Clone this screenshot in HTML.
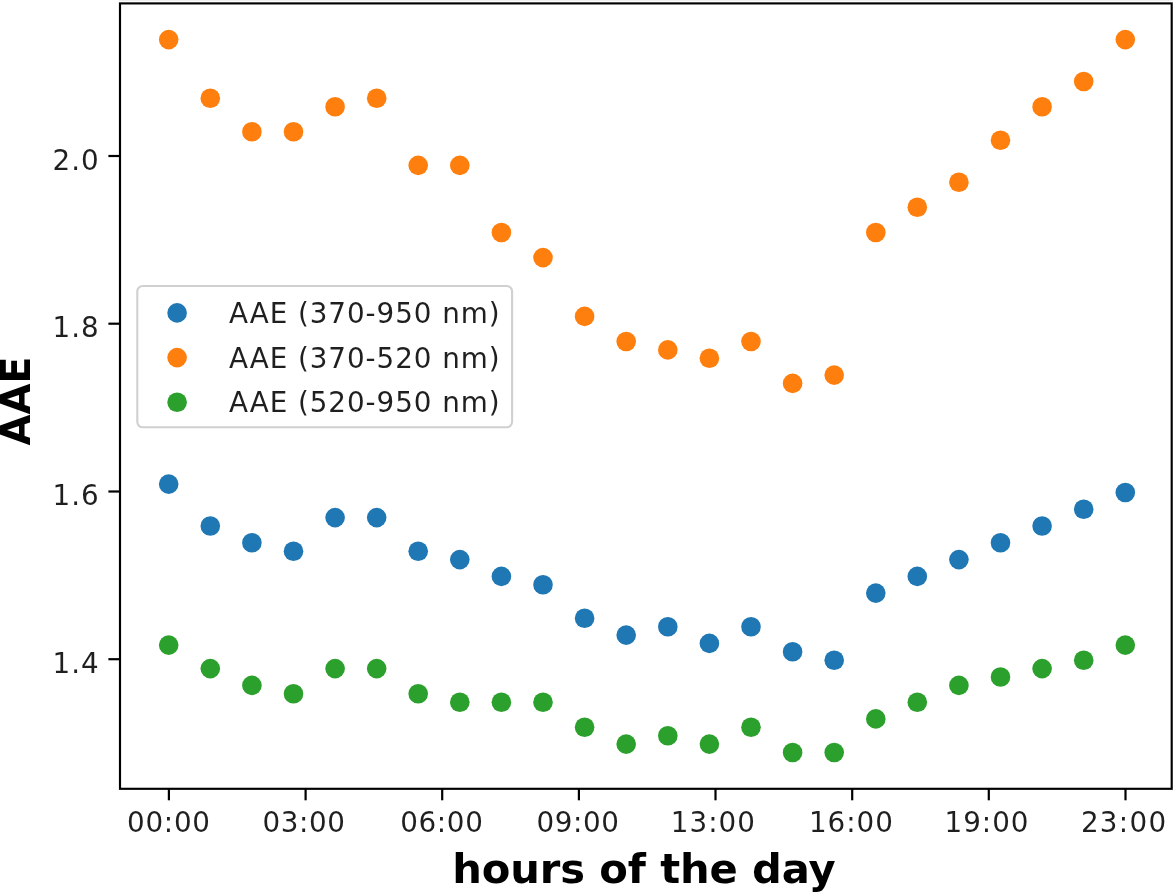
<!DOCTYPE html>
<html lang="en"><head><meta charset="utf-8"><title>AAE by hours of the day</title>
<style>html,body{margin:0;padding:0;background:#fff;overflow:hidden}svg{display:block;filter:blur(0.55px)}text{font-family:"DejaVu Sans","Liberation Sans",sans-serif;fill:#000}</style>
</head><body>
<svg width="1175" height="892" viewBox="0 0 1175 892">
<rect x="0" y="0" width="1175" height="892" fill="#ffffff"/>
<rect x="119" y="0" width="1054" height="0.9" fill="#ececec"/>
<g fill="#1f77b4">
<circle cx="168.7" cy="484.1" r="9.8"/>
<circle cx="210.3" cy="526.0" r="9.8"/>
<circle cx="251.9" cy="542.8" r="9.8"/>
<circle cx="293.5" cy="551.2" r="9.8"/>
<circle cx="335.1" cy="517.6" r="9.8"/>
<circle cx="376.7" cy="517.6" r="9.8"/>
<circle cx="418.2" cy="551.2" r="9.8"/>
<circle cx="459.8" cy="559.6" r="9.8"/>
<circle cx="501.4" cy="576.4" r="9.8"/>
<circle cx="543.0" cy="584.7" r="9.8"/>
<circle cx="584.6" cy="618.3" r="9.8"/>
<circle cx="626.2" cy="635.1" r="9.8"/>
<circle cx="667.8" cy="626.7" r="9.8"/>
<circle cx="709.4" cy="643.4" r="9.8"/>
<circle cx="751.0" cy="626.7" r="9.8"/>
<circle cx="792.6" cy="651.8" r="9.8"/>
<circle cx="834.2" cy="660.2" r="9.8"/>
<circle cx="875.8" cy="593.1" r="9.8"/>
<circle cx="917.3" cy="576.4" r="9.8"/>
<circle cx="958.9" cy="559.6" r="9.8"/>
<circle cx="1000.5" cy="542.8" r="9.8"/>
<circle cx="1042.1" cy="526.0" r="9.8"/>
<circle cx="1083.7" cy="509.3" r="9.8"/>
<circle cx="1125.3" cy="492.5" r="9.8"/>
</g>
<g fill="#ff7f0e">
<circle cx="168.7" cy="39.6" r="9.8"/>
<circle cx="210.3" cy="98.3" r="9.8"/>
<circle cx="251.9" cy="131.8" r="9.8"/>
<circle cx="293.5" cy="131.8" r="9.8"/>
<circle cx="335.1" cy="106.7" r="9.8"/>
<circle cx="376.7" cy="98.3" r="9.8"/>
<circle cx="418.2" cy="165.4" r="9.8"/>
<circle cx="459.8" cy="165.4" r="9.8"/>
<circle cx="501.4" cy="232.5" r="9.8"/>
<circle cx="543.0" cy="257.6" r="9.8"/>
<circle cx="584.6" cy="316.4" r="9.8"/>
<circle cx="626.2" cy="341.5" r="9.8"/>
<circle cx="667.8" cy="349.9" r="9.8"/>
<circle cx="709.4" cy="358.3" r="9.8"/>
<circle cx="751.0" cy="341.5" r="9.8"/>
<circle cx="792.6" cy="383.4" r="9.8"/>
<circle cx="834.2" cy="375.1" r="9.8"/>
<circle cx="875.8" cy="232.5" r="9.8"/>
<circle cx="917.3" cy="207.3" r="9.8"/>
<circle cx="958.9" cy="182.2" r="9.8"/>
<circle cx="1000.5" cy="140.2" r="9.8"/>
<circle cx="1042.1" cy="106.7" r="9.8"/>
<circle cx="1083.7" cy="81.5" r="9.8"/>
<circle cx="1125.3" cy="39.6" r="9.8"/>
</g>
<g fill="#2ca02c">
<circle cx="168.7" cy="645.1" r="9.8"/>
<circle cx="210.3" cy="668.6" r="9.8"/>
<circle cx="251.9" cy="685.4" r="9.8"/>
<circle cx="293.5" cy="693.8" r="9.8"/>
<circle cx="335.1" cy="668.6" r="9.8"/>
<circle cx="376.7" cy="668.6" r="9.8"/>
<circle cx="418.2" cy="693.8" r="9.8"/>
<circle cx="459.8" cy="702.2" r="9.8"/>
<circle cx="501.4" cy="702.2" r="9.8"/>
<circle cx="543.0" cy="702.2" r="9.8"/>
<circle cx="584.6" cy="727.3" r="9.8"/>
<circle cx="626.2" cy="744.1" r="9.8"/>
<circle cx="667.8" cy="735.7" r="9.8"/>
<circle cx="709.4" cy="744.1" r="9.8"/>
<circle cx="751.0" cy="727.3" r="9.8"/>
<circle cx="792.6" cy="752.5" r="9.8"/>
<circle cx="834.2" cy="752.5" r="9.8"/>
<circle cx="875.8" cy="718.9" r="9.8"/>
<circle cx="917.3" cy="702.2" r="9.8"/>
<circle cx="958.9" cy="685.4" r="9.8"/>
<circle cx="1000.5" cy="677.0" r="9.8"/>
<circle cx="1042.1" cy="668.6" r="9.8"/>
<circle cx="1083.7" cy="660.2" r="9.8"/>
<circle cx="1125.3" cy="645.1" r="9.8"/>
</g>
<g stroke="#000" stroke-width="2.2" fill="none">
<line x1="168.9" y1="788.8" x2="168.9" y2="800.3"/>
<line x1="305.6" y1="788.8" x2="305.6" y2="800.3"/>
<line x1="442.2" y1="788.8" x2="442.2" y2="800.3"/>
<line x1="578.9" y1="788.8" x2="578.9" y2="800.3"/>
<line x1="715.5" y1="788.8" x2="715.5" y2="800.3"/>
<line x1="852.2" y1="788.8" x2="852.2" y2="800.3"/>
<line x1="988.8" y1="788.8" x2="988.8" y2="800.3"/>
<line x1="1125.5" y1="788.8" x2="1125.5" y2="800.3"/>
<line x1="108.4" y1="156.0" x2="120.0" y2="156.0"/>
<line x1="108.4" y1="323.7" x2="120.0" y2="323.7"/>
<line x1="108.4" y1="491.5" x2="120.0" y2="491.5"/>
<line x1="108.4" y1="659.2" x2="120.0" y2="659.2"/>
</g>
<rect x="120.0" y="3.4" width="1051.7" height="785.4" fill="none" stroke="#000" stroke-width="2.15"/>
<g font-size="27.78px" fill-opacity="0.88">
<text x="168.85" y="831.8" text-anchor="middle" letter-spacing="0.72">00:00</text>
<text x="304.08" y="831.8" text-anchor="middle" letter-spacing="0.63">03:00</text>
<text x="441.84" y="831.8" text-anchor="middle" letter-spacing="0.67">06:00</text>
<text x="577.95" y="831.8" text-anchor="middle" letter-spacing="0.60">09:00</text>
<text x="713.40" y="831.8" text-anchor="middle" letter-spacing="1.05">13:00</text>
<text x="851.38" y="831.8" text-anchor="middle" letter-spacing="0.94">16:00</text>
<text x="987.02" y="831.8" text-anchor="middle" letter-spacing="1.01">19:00</text>
<text x="1124.17" y="831.8" text-anchor="middle" letter-spacing="1.30">23:00</text>
<text x="99.85" y="169.7" text-anchor="end" letter-spacing="1.1">2.0</text>
<text x="99.85" y="337.4" text-anchor="end" letter-spacing="1.1">1.8</text>
<text x="99.85" y="505.2" text-anchor="end" letter-spacing="1.1">1.6</text>
<text x="99.85" y="672.9" text-anchor="end" letter-spacing="1.1">1.4</text>
</g>
<text x="643.9" y="882.6" text-anchor="middle" font-size="41.67px" font-weight="bold" letter-spacing="-0.12">hours of the day</text>
<text transform="translate(29.85,401.0) rotate(-90) scale(0.957,1)" text-anchor="middle" font-size="41.67px" font-weight="bold">AAE</text>
<rect x="137.3" y="286" width="374.8" height="141.3" rx="5.5" ry="5.5" fill="#ffffff" fill-opacity="0.8" stroke="#d0d0d0" stroke-width="2.1"/>
<circle cx="177.1" cy="312.9" r="9.8" fill="#1f77b4"/>
<text x="229" y="322.8" font-size="27.78px" letter-spacing="0.95" fill-opacity="0.88">AAE (370-950 nm)</text>
<circle cx="177.1" cy="357.6" r="9.8" fill="#ff7f0e"/>
<text x="229" y="367.5" font-size="27.78px" letter-spacing="0.95" fill-opacity="0.88">AAE (370-520 nm)</text>
<circle cx="177.1" cy="402.2" r="9.8" fill="#2ca02c"/>
<text x="229" y="412.1" font-size="27.78px" letter-spacing="0.95" fill-opacity="0.88">AAE (520-950 nm)</text>
</svg>
</body></html>
